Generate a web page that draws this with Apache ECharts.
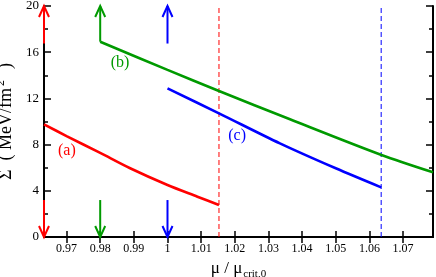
<!DOCTYPE html>
<html>
<head>
<meta charset="utf-8">
<script src="https://cdn.jsdelivr.net/npm/echarts@6/dist/echarts.min.js"></script>
<style>
html,body{margin:0;padding:0;background:#fff;}
#chart{width:436px;height:277px;}
</style>
</head>
<body>
<div id="chart"></div>
<script>
// ---- data ----
const xMin = 0.9633, xMax = 1.0789;
const yMin = 0, yMax = 20;
const xTicks = [0.97, 0.98, 0.99, 1.00, 1.01, 1.02, 1.03, 1.04, 1.05, 1.06, 1.07];
const xTickLabels = ["0.97", "0.98", "0.99", "1", "1.01", "1.02", "1.03", "1.04", "1.05", "1.06", "1.07"];

const redX = [0.9633, 0.970, 0.980, 0.9889, 1.000, 1.0089, 1.0153];
const redY = [9.75, 8.74, 7.28, 5.95, 4.50, 3.49, 2.77];

const greenX = [0.980, 1.000, 1.0153, 1.0364, 1.0636, 1.0789];
const greenY = [16.91, 14.47, 12.64, 10.19, 7.10, 5.60];

const blueX = [1.000, 1.0153, 1.0334, 1.050, 1.0635];
const blueY = [12.87, 10.71, 8.11, 5.95, 4.30];

const dashX = [1.0153, 1.0635];

const arrowX = [0.9633, 0.9633, 0.980, 0.980, 1.000, 1.000];
const arrowFrom = [16.75, 3.2, 16.91, 3.2, 16.75, 3.2];
const arrowTo = [20, 0, 20, 0, 20, 0];

const labelText = ['(a)', '(b)', '(c)'];
const labelX = [0.9701, 0.9859, 1.0207];
const labelY = [7.45, 15.06, 8.74];

const RED = '#ff0000', GREEN = '#009a00', BLUE = '#0000ff';
const arrowColors = [RED, RED, GREEN, GREEN, BLUE, BLUE];
const labelColors = [RED, GREEN, BLUE];
const dashColors = [RED, BLUE];

const FONT = 'Liberation Serif, Times New Roman, serif';

const zip = (xs, ys) => xs.map((x, i) => [x, ys[i]]);
const arrowData = arrowX.map((x, i) => [x, arrowFrom[i], arrowTo[i]]);

const chart = echarts.init(document.getElementById('chart'), null, {renderer: 'canvas'});

const tickFmt = v => {
  let best = 0;
  xTicks.forEach((t, i) => { if (Math.abs(t - v) < Math.abs(xTicks[best] - v)) best = i; });
  return xTickLabels[best];
};

const xBase = {
  type: 'value', min: xMin, max: xMax,
  axisLine: {show: true, lineStyle: {color: '#000', width: 2}},
  splitLine: {show: false},
};
const yBase = {
  type: 'value', min: yMin, max: yMax, interval: 4,
  axisLine: {show: true, lineStyle: {color: '#000', width: 2}},
  splitLine: {show: false},
  minorTick: {show: true, splitNumber: 2, length: 4, lineStyle: {color: '#000', width: 1.5}},
  minorSplitLine: {show: false},
};

const dashSeries = dashX.map((x, i) => ({
  name: 'dash' + i, type: 'line', data: [[x, yMin], [x, yMax]], symbol: 'none',
  lineStyle: {color: dashColors[i], width: 1, type: [5, 3]}, itemStyle: {color: dashColors[i]},
  silent: true, z: 3
}));

const option = {
  backgroundColor: '#fff',
  animation: false,
  grid: {left: 44, right: 3, top: 6, bottom: 40, containLabel: false, outerBoundsMode: 'none'},
  xAxis: [
    Object.assign({}, xBase, {
      position: 'bottom',
      axisTick: {show: true, inside: true, length: 6, customValues: xTicks, lineStyle: {color: '#000', width: 1.5}},
      axisLabel: {show: true, customValues: xTicks, formatter: tickFmt, margin: 6,
        fontFamily: FONT, fontSize: 12, color: '#000'},
      name: '{a|μ / μ}{s|crit,0}',
      nameLocation: 'middle', nameGap: 18,
      nameTextStyle: {
        fontFamily: FONT, color: '#000',
        rich: {
          a: {fontFamily: FONT, fontSize: 17, lineHeight: 20, color: '#000', verticalAlign: 'top'},
          s: {fontFamily: FONT, fontSize: 11, lineHeight: 11, color: '#000', verticalAlign: 'bottom', padding: [0, 0, 0, 1]}
        }
      }
    }),
    Object.assign({}, xBase, {
      position: 'top',
      axisTick: {show: true, inside: true, length: 6, customValues: xTicks, lineStyle: {color: '#000', width: 1.5}},
      axisLabel: {show: false}
    })
  ],
  yAxis: [
    Object.assign({}, yBase, {
      position: 'left',
      axisTick: {show: true, inside: true, length: 7, lineStyle: {color: '#000', width: 1.5}},
      axisLabel: {show: true, margin: 5, fontFamily: FONT, fontSize: 13, color: '#000'},
      name: '{a|Σ  ( MeV/fm}{p|2}{a|  )}',
      nameLocation: 'middle', nameRotate: 90, nameGap: 22,
      nameTextStyle: {
        fontFamily: FONT, color: '#000',
        rich: {
          a: {fontFamily: FONT, fontSize: 18, lineHeight: 20, color: '#000', verticalAlign: 'bottom'},
          p: {fontFamily: FONT, fontSize: 12, lineHeight: 12, color: '#000', verticalAlign: 'top', padding: [0, 2, 0, 2]}
        }
      }
    }),
    Object.assign({}, yBase, {
      position: 'right',
      axisTick: {show: true, inside: true, length: 7, lineStyle: {color: '#000', width: 1.5}},
      axisLabel: {show: false}
    })
  ],
  series: dashSeries.concat([
    {
      name: 'a', type: 'line', data: zip(redX, redY), smooth: 0.3, symbol: 'none',
      lineStyle: {color: RED, width: 2.6}, itemStyle: {color: RED}, z: 5
    },
    {
      name: 'b', type: 'line', data: zip(greenX, greenY), smooth: 0.3, symbol: 'none',
      lineStyle: {color: GREEN, width: 2.6}, itemStyle: {color: GREEN}, z: 5
    },
    {
      name: 'c', type: 'line', data: zip(blueX, blueY), smooth: 0.3, symbol: 'none',
      lineStyle: {color: BLUE, width: 2.6}, itemStyle: {color: BLUE}, z: 5
    },
    {
      name: 'labels', type: 'custom', data: zip(labelX, labelY), z: 7, silent: true,
      encode: {x: 0, y: 1},
      renderItem: function (params, api) {
        const p = api.coord([api.value(0), api.value(1)]);
        return {
          type: 'text', x: p[0], y: p[1],
          style: {text: labelText[params.dataIndex], fill: labelColors[params.dataIndex],
                  font: '16px ' + FONT, align: 'center', verticalAlign: 'middle'}
        };
      }
    },
    {
      name: 'arrows', type: 'custom', data: arrowData, z: 6, silent: true,
      encode: {x: 0, y: [1, 2]},
      renderItem: function (params, api) {
        const x = api.value(0), y0 = api.value(1), y1 = api.value(2);
        const a = api.coord([x, y0]), b = api.coord([x, y1]);
        const d = b[1] > a[1] ? 1 : -1;
        const color = arrowColors[params.dataIndex];
        return {
          type: 'group',
          children: [
            {type: 'line', shape: {x1: a[0], y1: a[1], x2: b[0], y2: b[1]},
             style: {stroke: color, lineWidth: 2}},
            {type: 'polyline',
             shape: {points: [[b[0] - 5, b[1] - d * 11], [b[0], b[1]], [b[0] + 5, b[1] - d * 11]]},
             style: {stroke: color, fill: null, lineWidth: 2}}
          ]
        };
      }
    }
  ])
};
chart.setOption(option);
</script>
</body>
</html>
